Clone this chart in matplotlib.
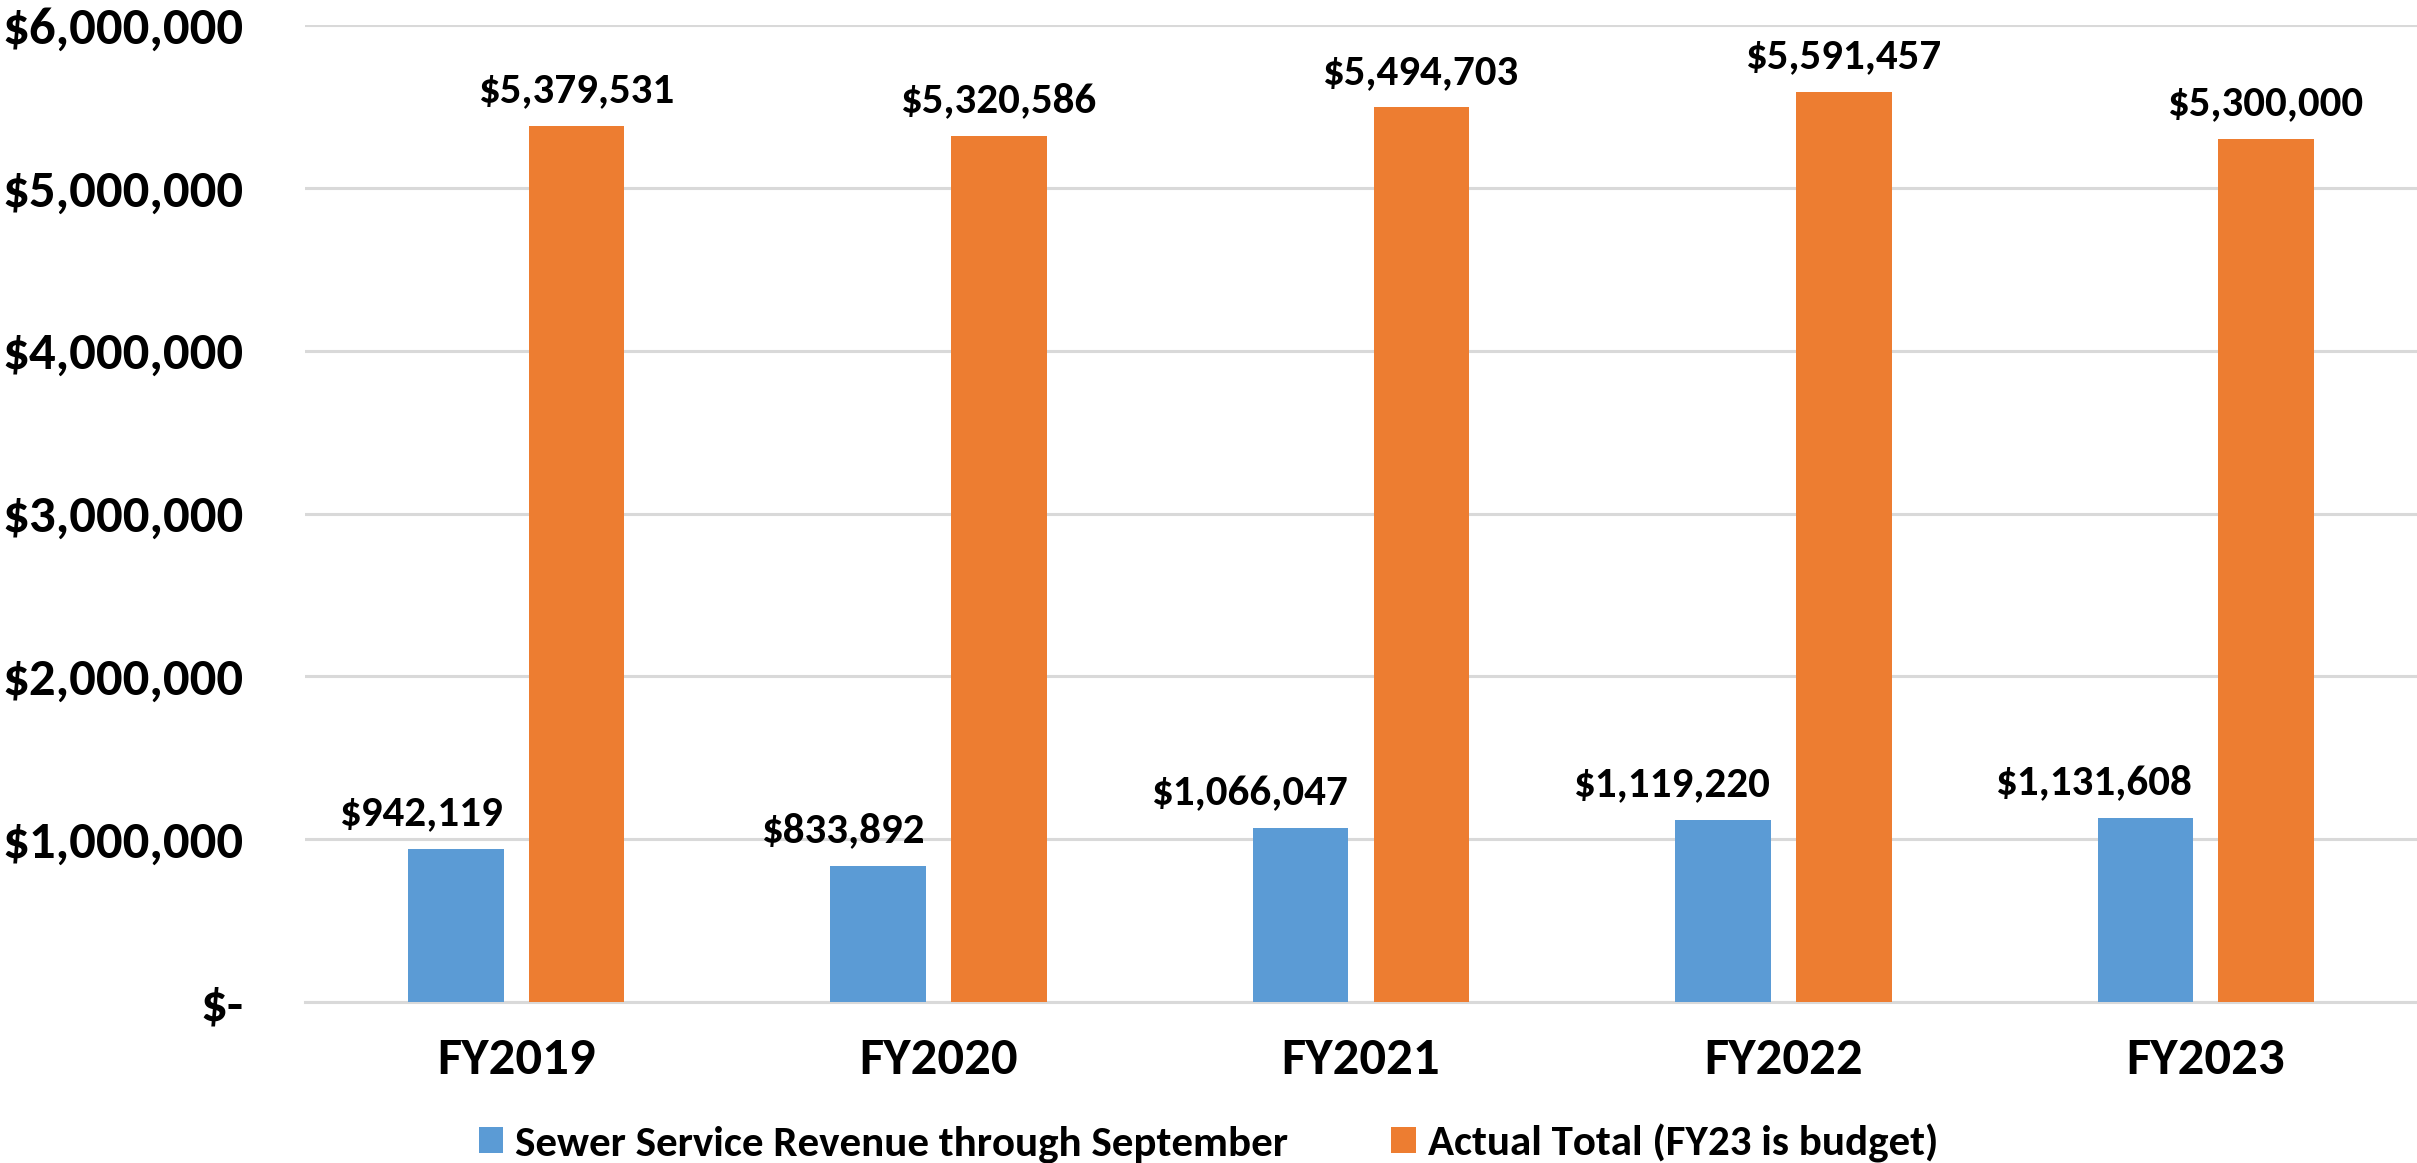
import numpy as np
import matplotlib
matplotlib.use("Agg")
import matplotlib.pyplot as plt
from matplotlib.ticker import FuncFormatter

years = ["FY2019", "FY2020", "FY2021", "FY2022", "FY2023"]
sept_revenue = [942119, 833892, 1066047, 1119220, 1131608]
actual_total = [5379531, 5320586, 5494703, 5591457, 5300000]
series_names = ["Sewer Service Revenue through September", "Actual Total (FY23 is budget)"]

blue = "#5B9BD5"
orange = "#ED7D31"

plt.rcParams['font.family'] = ['Carlito', 'DejaVu Sans']
plt.rcParams['font.weight'] = 'bold'

fig = plt.figure(figsize=(24.17, 11.63), dpi=100)
ax = fig.add_axes([0.1262, 0.1384, 0.8738, 0.8401])

x = np.arange(len(years))
w = 0.226
off = 0.143
b1 = ax.bar(x - off, sept_revenue, w, color=blue, label=series_names[0], zorder=3)
b2 = ax.bar(x + off, actual_total, w, color=orange, label=series_names[1], zorder=3)

# labels: blue ones sit right-aligned to their bar, orange ones centred
for xi, v in zip(x, sept_revenue):
    ax.annotate(f"${v:,.0f}", (xi - off + w / 2, v), xytext=(0, 17),
                textcoords="offset points", ha="right", va="baseline",
                fontsize=31, fontweight="bold")
for xi, v in zip(x, actual_total):
    ax.annotate(f"${v:,.0f}", (xi + off, v), xytext=(0, 17),
                textcoords="offset points", ha="center", va="baseline",
                fontsize=31, fontweight="bold")

ax.set_xlim(-0.5, len(years) - 0.5)
ax.set_ylim(0, 6000000)
ax.set_yticks(np.arange(0, 6000001, 1000000))
ax.yaxis.set_major_formatter(FuncFormatter(lambda v, p: "$-" if v == 0 else f"${v:,.0f}"))
ax.set_xticks(x)
ax.set_xticklabels(years)

ax.grid(axis="y", color="#d9d9d9", linewidth=2.2, zorder=0)
for s in ["top", "right", "left"]:
    ax.spines[s].set_visible(False)
ax.spines["bottom"].set_color("#d9d9d9")
ax.spines["bottom"].set_linewidth(2.2)
ax.tick_params(axis="both", length=0)
ax.tick_params(axis="y", labelsize=38, pad=44)
ax.tick_params(axis="x", labelsize=38, pad=25)

fig.legend(handles=[b1, b2], loc="center", bbox_to_anchor=(0.5, 1 - 1143 / 1163), ncol=2,
           frameon=False, fontsize=31, handlelength=0.56, handleheight=0.56,
           handletextpad=0.28, columnspacing=2.4)

fig.savefig("out.png", dpi=100)
